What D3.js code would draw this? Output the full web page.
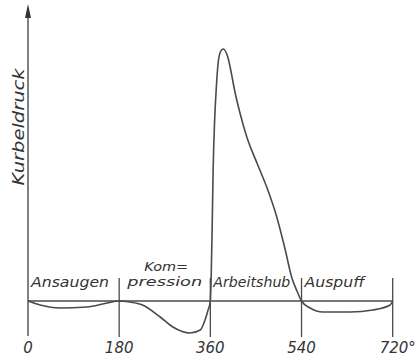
<!DOCTYPE html>
<html>
<head>
<meta charset="utf-8">
<script src="https://cdn.jsdelivr.net/npm/d3@7"></script>
<style>
  html, body { margin: 0; padding: 0; background: #fff; }
  svg text { font-family: "DejaVu Sans", "Liberation Sans", sans-serif; font-style: italic; fill: #333; }
</style>
</head>
<body>
<svg id="chart" width="419" height="360"></svg>
<script>
// Kurbelwinkel (Grad) und Kurbeldruck (willkürliche Einheit)
const crankDeg = [0, 24, 63, 116, 156, 180, 201, 226, 261, 286, 320, 340, 349.5, 355.5, 360,
  361.5, 363.5, 365.5, 368.5, 371.5, 375, 379, 385, 395, 399, 409, 419, 432, 452, 472, 490, 507, 521, 531, 540,
  557, 582, 636, 681, 715, 720]
const pressure = [0, -0.4, -0.7, -0.6, -0.2, 0, -0.1, -0.4, -1.6, -2.6, -3.2, -2.9, -1.9, -0.9, 0,
  2.1, 7.1, 13.1, 18.1, 21.1, 23.6, 24.8, 25.2, 24.3, 23.4, 20.8, 18.7, 16.4, 13.8, 11.3, 8.6, 5.3, 2.3, 1.0, 0,
  -0.7, -1.1, -1.1, -0.9, -0.4, 0]

const tickDeg = [0, 180, 360, 540, 720]
const tickLabels = ["0", "180", "360", "540", "720°"]
const phases = ["Ansaugen", "Arbeitshub", "Auspuff"]
const phaseDeg = [0, 360, 540]
const compLabel = ["Kom=", "pression"]
const yTitle = "Kurbeldruck"

const svg = d3.select("#chart")
const ink = "#4a4a4a"

const x = d3.scaleLinear().domain([0, 720]).range([28, 392.7])
const y = d3.scaleLinear().domain([0, 25]).range([301, 51])

const data = crankDeg.map((d, i) => ({deg: d, p: pressure[i]}))

// Grundlinie
svg.append("line")
    .attr("x1", x(0)).attr("x2", x(720))
    .attr("y1", y(0)).attr("y2", y(0))
    .attr("stroke", ink).attr("stroke-width", 1.3)

// senkrechte Achse mit Pfeil
svg.append("line")
    .attr("x1", x(0)).attr("x2", x(0))
    .attr("y1", 12).attr("y2", 336)
    .attr("stroke", ink).attr("stroke-width", 1.4)
svg.append("path")
    .attr("d", "M" + x(0) + ",4 L" + (x(0) - 3) + ",18 L" + (x(0) + 3) + ",18 Z")
    .attr("fill", "#333")

// Teilstriche
svg.append("g")
    .selectAll("line")
    .data(tickDeg.slice(1))
    .join("line")
    .attr("x1", d => x(d)).attr("x2", d => x(d))
    .attr("y1", 278).attr("y2", 337)
    .attr("stroke", ink).attr("stroke-width", 1.3)

svg.append("g")
    .selectAll("text")
    .data(tickDeg)
    .join("text")
    .attr("x", d => x(d))
    .attr("dx", (d, i) => i === 4 ? 5 : 0)
    .attr("y", 353)
    .attr("text-anchor", "middle")
    .attr("font-size", 15)
    .text((d, i) => tickLabels[i])

// Kurve
const line = d3.line()
    .x(d => x(d.deg))
    .y(d => y(d.p))
    .curve(d3.curveMonotoneX)

svg.append("path")
    .datum(data)
    .attr("d", line)
    .attr("fill", "none")
    .attr("stroke", ink)
    .attr("stroke-width", 1.6)

// Takt-Bezeichnungen
const phaseLen = [78, 77, 60]
svg.append("g")
    .selectAll("text")
    .data(phases)
    .join("text")
    .attr("x", (d, i) => x(phaseDeg[i]) + 3)
    .attr("y", 287)
    .attr("font-size", 14)
    .attr("textLength", (d, i) => phaseLen[i])
    .attr("lengthAdjust", "spacingAndGlyphs")
    .text(d => d)

svg.append("text")
    .attr("x", x(180) + 25).attr("y", 271)
    .attr("font-size", 13)
    .attr("textLength", 44).attr("lengthAdjust", "spacingAndGlyphs")
    .text(compLabel[0])
svg.append("text")
    .attr("x", x(180) + 8).attr("y", 286)
    .attr("font-size", 13)
    .attr("textLength", 75).attr("lengthAdjust", "spacingAndGlyphs")
    .text(compLabel[1])

// Achsentitel
svg.append("text")
    .attr("transform", "translate(24,127) rotate(-90)")
    .attr("text-anchor", "middle")
    .attr("font-size", 15)
    .attr("textLength", 117).attr("lengthAdjust", "spacingAndGlyphs")
    .text(yTitle)
</script>
</body>
</html>
